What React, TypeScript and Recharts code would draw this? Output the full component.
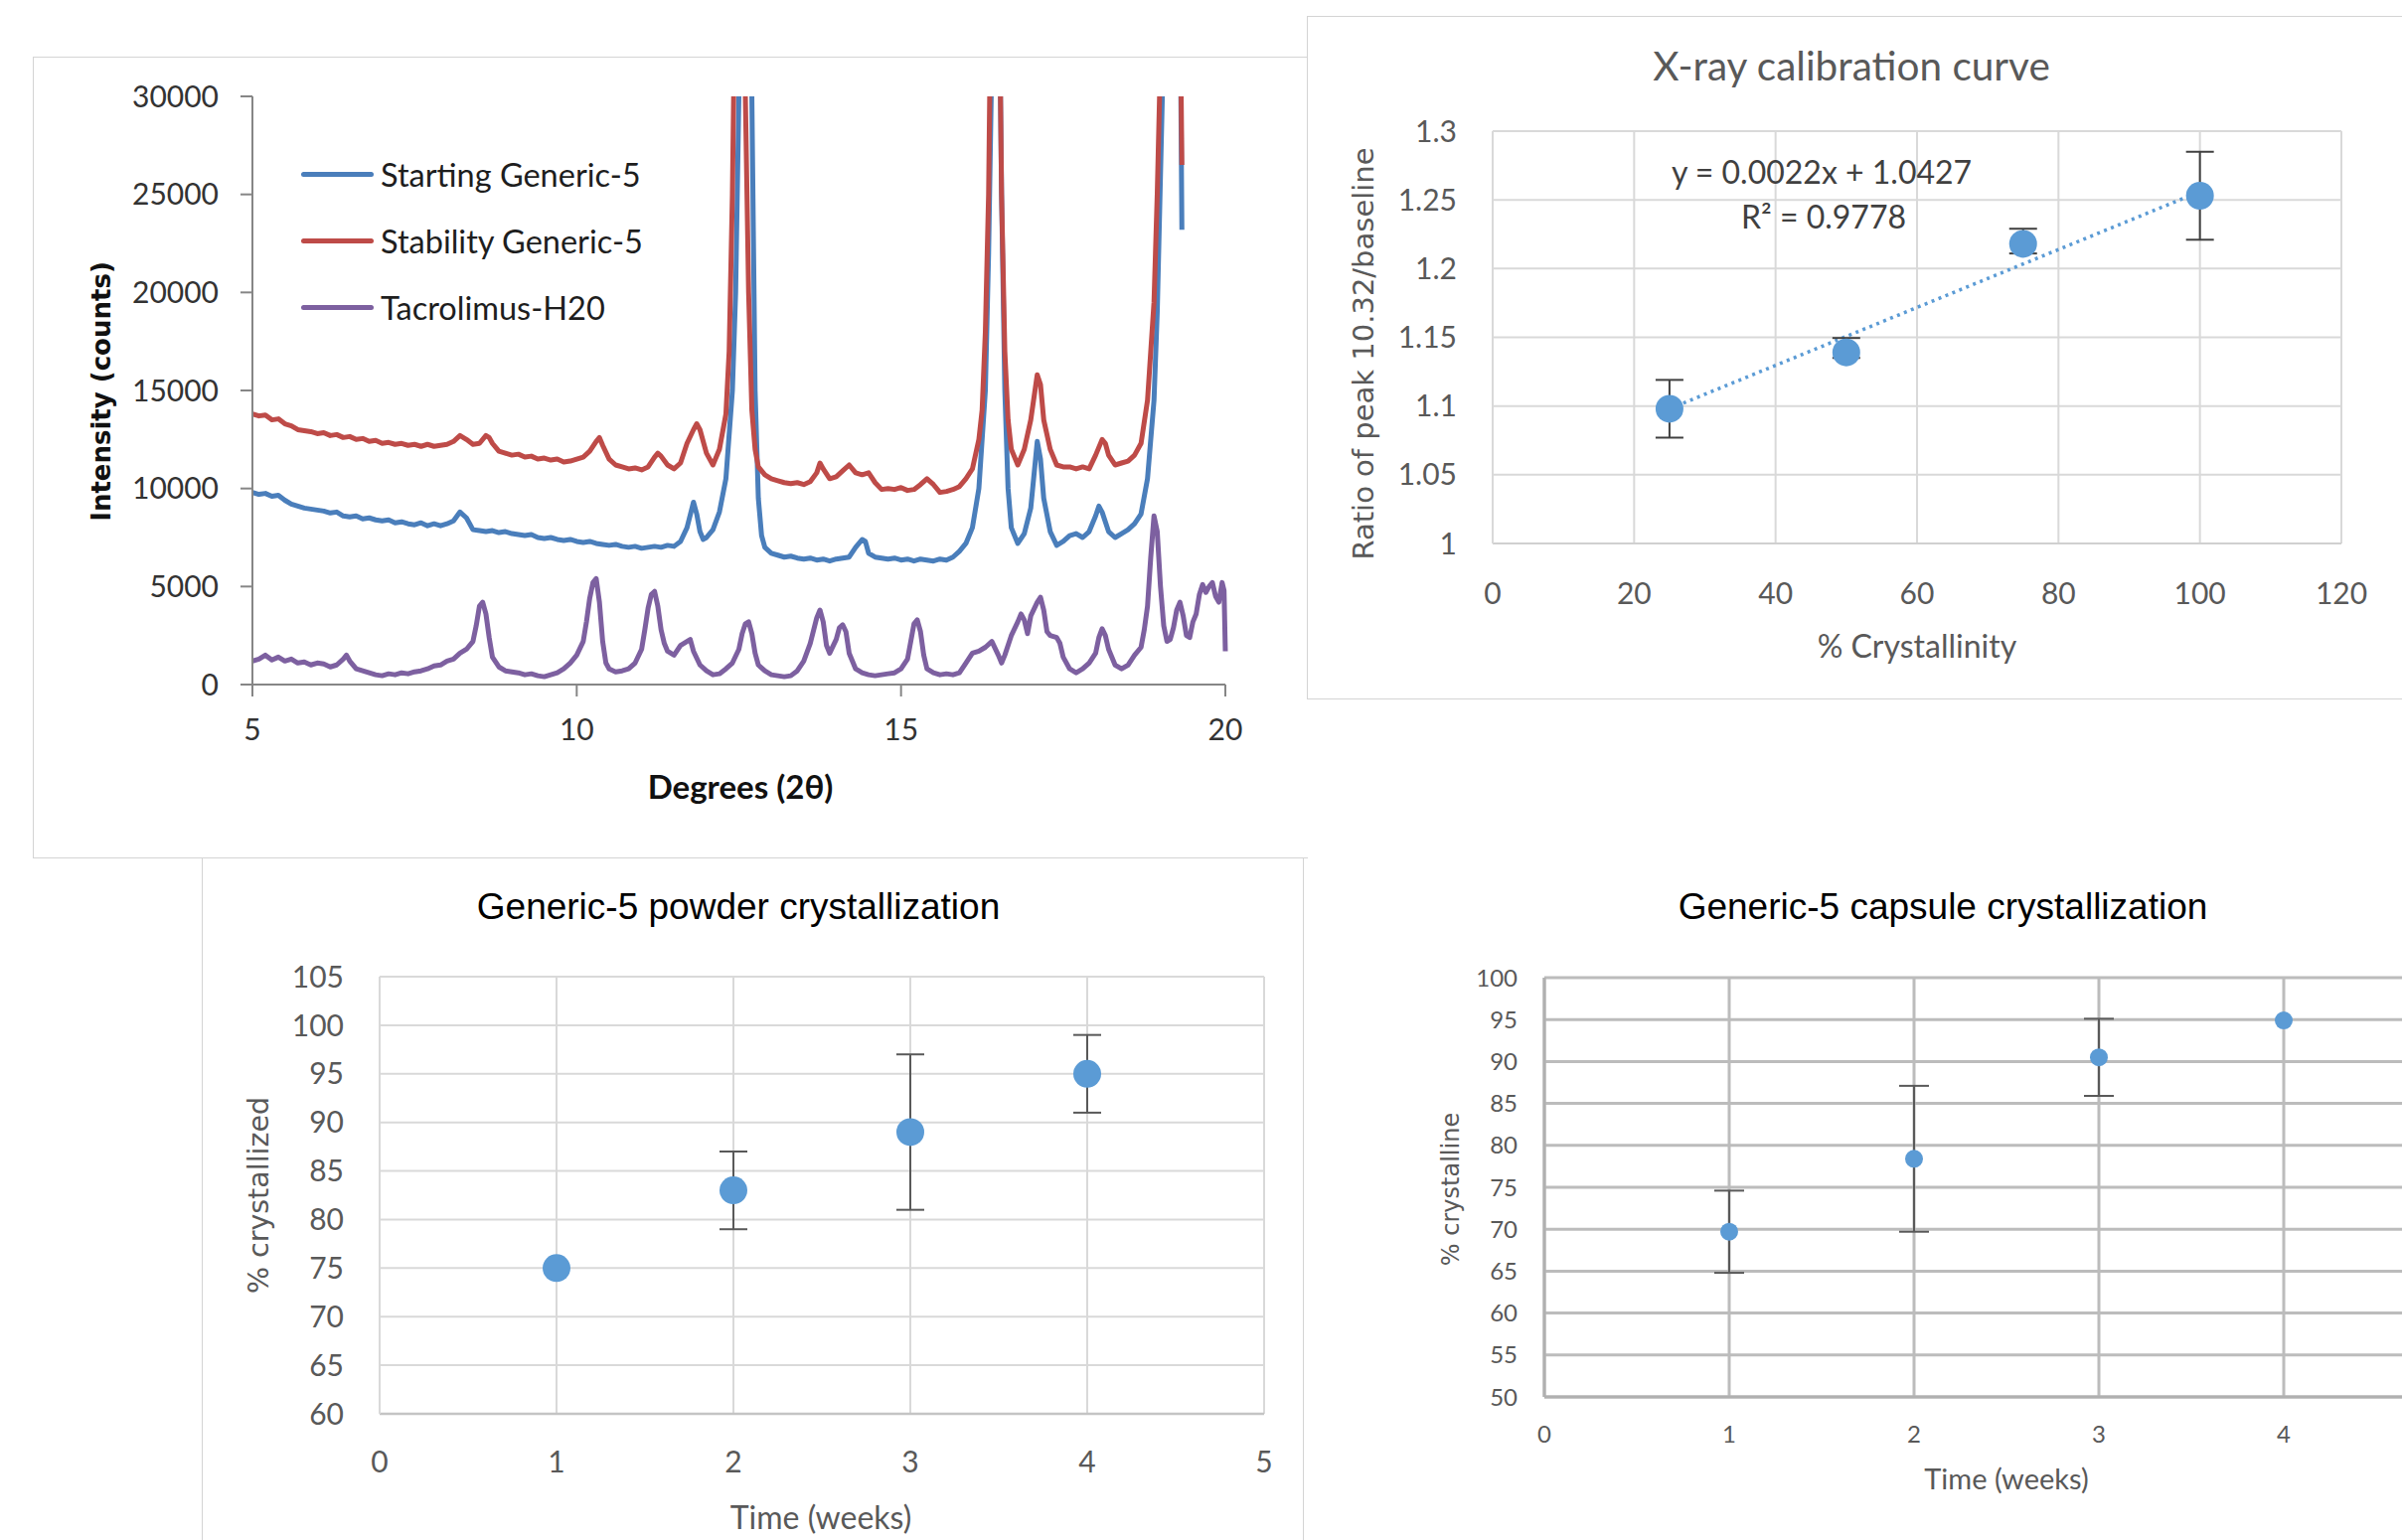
import React from "react";
import {
  LineChart,
  Line,
  XAxis,
  YAxis,
  Legend,
  ComposedChart,
  Scatter,
  ErrorBar,
  CartesianGrid,
} from "recharts";

// ---- XRD patterns (degrees 2θ, counts) ----
const startingGeneric5: [number, number][] = [
  [5.0, 9800], [5.1, 9700], [5.2, 9750], [5.3, 9600], [5.4, 9650], [5.5, 9400], [5.6, 9200],
  [5.7, 9100], [5.8, 9000], [5.9, 8950], [6.0, 8900], [6.1, 8850], [6.2, 8750], [6.3, 8800],
  [6.4, 8600], [6.5, 8550], [6.6, 8600], [6.7, 8450], [6.8, 8500], [6.9, 8400], [7.0, 8350],
  [7.1, 8400], [7.2, 8250], [7.3, 8300], [7.4, 8200], [7.5, 8150], [7.6, 8250], [7.7, 8100],
  [7.8, 8200], [7.9, 8100], [8.0, 8200], [8.1, 8350], [8.2, 8800], [8.3, 8500], [8.4, 7900],
  [8.5, 7850], [8.6, 7800], [8.7, 7850], [8.8, 7750], [8.9, 7800], [9.0, 7700], [9.1, 7650],
  [9.2, 7600], [9.3, 7650], [9.4, 7500], [9.5, 7450], [9.6, 7500], [9.7, 7400], [9.8, 7350],
  [9.9, 7400], [10.0, 7300], [10.1, 7250], [10.2, 7300], [10.3, 7200], [10.4, 7150], [10.5, 7100],
  [10.6, 7150], [10.7, 7050], [10.8, 7000], [10.9, 7050], [11.0, 6950], [11.1, 7000], [11.2, 7050],
  [11.3, 7000], [11.4, 7100], [11.5, 7050], [11.6, 7300], [11.7, 8000], [11.8, 9300], [11.85, 8700],
  [11.9, 7800], [11.95, 7400], [12.0, 7500], [12.1, 7900], [12.2, 8800], [12.3, 10500], [12.4, 15000],
  [12.45, 20000], [12.5, 30000], [12.55, 45000], [12.6, 50000], [12.65, 45000], [12.7, 30000],
  [12.75, 15000], [12.8, 9500], [12.85, 7600], [12.9, 7000], [13.0, 6700], [13.1, 6600], [13.2, 6500],
  [13.3, 6550], [13.4, 6450], [13.5, 6400], [13.6, 6450], [13.7, 6350], [13.8, 6400], [13.9, 6300],
  [14.0, 6400], [14.1, 6450], [14.2, 6500], [14.3, 7000], [14.4, 7400], [14.45, 7300], [14.5, 6700],
  [14.6, 6500], [14.7, 6450], [14.8, 6400], [14.9, 6450], [15.0, 6350], [15.1, 6400], [15.2, 6300],
  [15.3, 6400], [15.4, 6350], [15.5, 6300], [15.6, 6400], [15.7, 6350], [15.8, 6500], [15.9, 6800],
  [16.0, 7200], [16.1, 8000], [16.2, 10000], [16.3, 15000], [16.35, 22000], [16.4, 32000],
  [16.45, 45000], [16.5, 40000], [16.55, 25000], [16.6, 15000], [16.65, 10000], [16.7, 8000],
  [16.8, 7200], [16.9, 7700], [17.0, 9000], [17.1, 12400], [17.15, 11500], [17.2, 9500], [17.3, 7800],
  [17.4, 7100], [17.5, 7300], [17.6, 7600], [17.7, 7700], [17.8, 7500], [17.9, 7800], [18.0, 8600],
  [18.05, 9100], [18.1, 8800], [18.2, 7800], [18.3, 7500], [18.4, 7700], [18.5, 7900], [18.6, 8200],
  [18.7, 8700], [18.8, 10500], [18.9, 14500], [18.95, 19000], [19.0, 26000], [19.05, 33000],
  [19.1, 45000], [19.2, 45000], [19.28, 45000], [19.33, 23200],
];

const stabilityGeneric5: [number, number][] = [
  [5.0, 13800], [5.1, 13700], [5.2, 13750], [5.3, 13500], [5.4, 13550], [5.5, 13300], [5.6, 13200],
  [5.7, 13000], [5.8, 12950], [5.9, 12900], [6.0, 12800], [6.1, 12850], [6.2, 12700], [6.3, 12750],
  [6.4, 12600], [6.5, 12650], [6.6, 12500], [6.7, 12550], [6.8, 12400], [6.9, 12450], [7.0, 12300],
  [7.1, 12350], [7.2, 12250], [7.3, 12300], [7.4, 12200], [7.5, 12250], [7.6, 12150], [7.7, 12250],
  [7.8, 12150], [7.9, 12200], [8.0, 12250], [8.1, 12400], [8.2, 12700], [8.3, 12500], [8.4, 12250],
  [8.5, 12300], [8.6, 12700], [8.65, 12600], [8.7, 12300], [8.8, 11900], [8.9, 11800], [9.0, 11700],
  [9.1, 11750], [9.2, 11600], [9.3, 11650], [9.4, 11500], [9.5, 11550], [9.6, 11450], [9.7, 11500],
  [9.8, 11350], [9.9, 11400], [10.0, 11500], [10.1, 11600], [10.2, 11900], [10.3, 12400],
  [10.35, 12600], [10.4, 12200], [10.5, 11500], [10.6, 11200], [10.7, 11100], [10.8, 11000],
  [10.9, 11050], [11.0, 10950], [11.1, 11100], [11.2, 11600], [11.25, 11800], [11.3, 11650],
  [11.4, 11200], [11.5, 11000], [11.6, 11300], [11.7, 12300], [11.8, 13000], [11.85, 13300],
  [11.9, 13000], [12.0, 11800], [12.1, 11200], [12.2, 12000], [12.3, 13800], [12.35, 17000],
  [12.4, 25000], [12.45, 38000], [12.5, 50000], [12.55, 45000], [12.6, 30000], [12.65, 20000],
  [12.7, 14000], [12.75, 12000], [12.8, 11100], [12.9, 10700], [13.0, 10500], [13.1, 10400],
  [13.2, 10300], [13.3, 10250], [13.4, 10300], [13.5, 10200], [13.6, 10350], [13.7, 10800],
  [13.75, 11300], [13.8, 11000], [13.9, 10500], [14.0, 10600], [14.1, 10900], [14.2, 11200],
  [14.3, 10800], [14.4, 10700], [14.5, 10800], [14.6, 10300], [14.7, 9950], [14.8, 10000],
  [14.9, 9950], [15.0, 10050], [15.1, 9900], [15.2, 9950], [15.3, 10200], [15.4, 10500],
  [15.5, 10200], [15.6, 9800], [15.7, 9850], [15.8, 9950], [15.9, 10100], [16.0, 10500],
  [16.1, 11000], [16.2, 12500], [16.25, 14000], [16.3, 18000], [16.35, 25000], [16.4, 40000],
  [16.45, 50000], [16.5, 40000], [16.55, 25000], [16.6, 17000], [16.65, 13500], [16.7, 12000],
  [16.8, 11200], [16.9, 12000], [17.0, 13500], [17.1, 15800], [17.15, 15300], [17.2, 13500],
  [17.3, 12000], [17.4, 11200], [17.5, 11100], [17.6, 11100], [17.7, 11000], [17.8, 11100],
  [17.9, 11000], [18.0, 11700], [18.1, 12500], [18.15, 12300], [18.2, 11700], [18.3, 11200],
  [18.4, 11300], [18.5, 11400], [18.6, 11700], [18.7, 12300], [18.8, 14500], [18.9, 19500],
  [18.95, 25000], [19.0, 32000], [19.05, 45000], [19.25, 45000], [19.3, 36000], [19.33, 26500],
];

const tacrolimusH20: [number, number][] = [
  [5.0, 1200], [5.1, 1300], [5.2, 1500], [5.3, 1250], [5.4, 1400], [5.5, 1200], [5.6, 1300],
  [5.7, 1100], [5.8, 1150], [5.9, 1000], [6.0, 1100], [6.1, 1050], [6.2, 900], [6.3, 1000],
  [6.4, 1300], [6.45, 1500], [6.5, 1200], [6.6, 800], [6.7, 700], [6.8, 600], [6.9, 500],
  [7.0, 450], [7.1, 550], [7.2, 500], [7.3, 600], [7.4, 550], [7.5, 650], [7.6, 700], [7.7, 800],
  [7.8, 950], [7.9, 1000], [8.0, 1200], [8.1, 1300], [8.2, 1600], [8.3, 1800], [8.4, 2200],
  [8.45, 3000], [8.5, 4000], [8.55, 4200], [8.6, 3600], [8.65, 2400], [8.7, 1400], [8.8, 900],
  [8.9, 700], [9.0, 650], [9.1, 600], [9.2, 500], [9.3, 550], [9.4, 450], [9.5, 400], [9.6, 500],
  [9.7, 600], [9.8, 800], [9.9, 1100], [10.0, 1500], [10.1, 2200], [10.15, 3200], [10.2, 4400],
  [10.25, 5200], [10.3, 5400], [10.35, 4200], [10.4, 2200], [10.45, 1100], [10.5, 800], [10.6, 650],
  [10.7, 700], [10.8, 800], [10.9, 1100], [11.0, 1800], [11.05, 2800], [11.1, 3900], [11.15, 4600],
  [11.2, 4750], [11.25, 4000], [11.3, 2800], [11.35, 2100], [11.4, 1700], [11.5, 1500], [11.6, 2000],
  [11.7, 2200], [11.75, 2300], [11.8, 1700], [11.9, 1000], [12.0, 700], [12.1, 500], [12.2, 550],
  [12.3, 800], [12.4, 1100], [12.5, 1800], [12.55, 2600], [12.6, 3100], [12.65, 3200], [12.7, 2600],
  [12.75, 1600], [12.8, 1000], [12.9, 700], [13.0, 500], [13.1, 450], [13.2, 400], [13.3, 450],
  [13.4, 700], [13.5, 1200], [13.6, 2100], [13.7, 3400], [13.75, 3800], [13.8, 3200], [13.85, 2000],
  [13.9, 1600], [14.0, 2300], [14.05, 2900], [14.1, 3050], [14.15, 2700], [14.2, 1600], [14.3, 800],
  [14.4, 600], [14.5, 500], [14.6, 450], [14.7, 500], [14.8, 550], [14.9, 600], [15.0, 800],
  [15.1, 1300], [15.15, 2200], [15.2, 3100], [15.25, 3300], [15.3, 2700], [15.35, 1500], [15.4, 800],
  [15.5, 600], [15.6, 500], [15.7, 550], [15.8, 500], [15.9, 600], [16.0, 1100], [16.1, 1600],
  [16.2, 1700], [16.3, 1900], [16.4, 2200], [16.5, 1500], [16.55, 1100], [16.6, 1500], [16.7, 2500],
  [16.8, 3200], [16.85, 3600], [16.9, 3300], [16.95, 2600], [17.0, 3500], [17.1, 4200],
  [17.15, 4450], [17.2, 3800], [17.25, 2700], [17.3, 2500], [17.4, 2400], [17.45, 2100],
  [17.5, 1400], [17.6, 800], [17.7, 600], [17.8, 800], [17.9, 1100], [18.0, 1600], [18.05, 2400],
  [18.1, 2850], [18.15, 2500], [18.2, 1800], [18.3, 1000], [18.4, 800], [18.5, 1000], [18.6, 1500],
  [18.7, 1900], [18.75, 2800], [18.8, 4000], [18.85, 6500], [18.9, 8600], [18.95, 7800],
  [19.0, 5000], [19.05, 3000], [19.1, 2200], [19.15, 2300], [19.2, 2900], [19.25, 3800],
  [19.3, 4200], [19.35, 3500], [19.4, 2500], [19.45, 2400], [19.5, 3200], [19.55, 3600],
  [19.6, 4600], [19.65, 5100], [19.7, 4700], [19.75, 5000], [19.8, 5200], [19.85, 4500],
  [19.9, 4200], [19.95, 5200], [19.98, 4800], [20.0, 1700],
];

const xrdSeriesNames = ["Starting Generic-5", "Stability Generic-5", "Tacrolimus-H20"];
const xrdXTicks = [5, 10, 15, 20];
const xrdYTicks = [0, 5000, 10000, 15000, 20000, 25000, 30000];

// ---- calibration curve ----
const calCrystallinity = [25, 50, 75, 100];
const calRatio = [1.098, 1.139, 1.218, 1.253];
const calErrLow = [0.021, 0.004, 0.007, 0.032];
const calErrHigh = [0.021, 0.0105, 0.011, 0.032];
const calTrendX = [25, 100];
const calTrendY = [1.098, 1.256];
const calXTicks = [0, 20, 40, 60, 80, 100, 120];
const calYTicks = [1, 1.05, 1.1, 1.15, 1.2, 1.25, 1.3];

// ---- powder crystallization ----
const powderWeeks = [1, 2, 3, 4];
const powderPct = [75, 83, 89, 95];
const powderErr = [0, 4, 8, 4];
const powderXTicks = [0, 1, 2, 3, 4, 5];
const powderYTicks = [60, 65, 70, 75, 80, 85, 90, 95, 100, 105];

// ---- capsule crystallization ----
const capsuleWeeks = [1, 2, 3, 4];
const capsulePct = [69.7, 78.4, 90.5, 94.9];
const capsuleErr = [4.9, 8.7, 4.6, 0];
const capsuleXTicks = [0, 1, 2, 3, 4];
const capsuleYTicks = [50, 55, 60, 65, 70, 75, 80, 85, 90, 95, 100];

const toXY = (rows: [number, number][]) => rows.map(([x, y]) => ({ x, y }));

const LATO = "Lato, 'Liberation Sans', sans-serif";
const DEJAVU = "'DejaVu Sans', Verdana, sans-serif";
const ARIAL = "'Liberation Sans', Arial, sans-serif";
const DOT = "#5b9bd5";

function Txt({
  x,
  y,
  children,
  size,
  family,
  color = "#595959",
  weight = 400,
  vertical = false,
}: {
  x: number;
  y: number;
  children: React.ReactNode;
  size: number;
  family: string;
  color?: string;
  weight?: number;
  vertical?: boolean;
}) {
  return (
    <div
      style={{
        position: "absolute",
        left: x,
        top: y,
        transform: `translate(-50%, -50%)${vertical ? " rotate(-90deg)" : ""}`,
        whiteSpace: "nowrap",
        fontSize: size,
        fontFamily: family,
        fontWeight: weight,
        color,
        lineHeight: 1,
      }}
    >
      {children}
    </div>
  );
}

const dotShape = (r: number) => (props: any) =>
  <circle cx={props.cx} cy={props.cy} r={r} fill={DOT} />;

function XrdLegend(props: any) {
  const items = [...(props.payload || [])].sort(
    (a: any, b: any) => xrdSeriesNames.indexOf(a.value) - xrdSeriesNames.indexOf(b.value)
  );
  return (
    <div>
      {items.map((p: any) => (
        <div key={p.value} style={{ display: "flex", alignItems: "center", height: 67 }}>
          <span
            style={{
              display: "inline-block",
              width: 73,
              height: 5,
              borderRadius: 3,
              background: p.color,
              marginRight: 7,
            }}
          />
          <span style={{ fontFamily: LATO, fontSize: 32.5, color: "#1e1e1e" }}>{p.value}</span>
        </div>
      ))}
    </div>
  );
}

function XrdChart() {
  const axisStyle = { stroke: "#868686", strokeWidth: 2 };
  const colors = ["#4a7ebb", "#be4b48", "#7d60a0"];
  const series = [startingGeneric5, stabilityGeneric5, tacrolimusH20];
  return (
    <div style={{ position: "absolute", left: 0, top: 0 }}>
      <LineChart width={1300} height={860} margin={{ top: 97, right: 67, bottom: 111, left: 134 }}>
        <XAxis
          type="number"
          dataKey="x"
          domain={[5, 20]}
          ticks={xrdXTicks}
          height={60}
          axisLine={axisStyle}
          tickLine={axisStyle}
          tickSize={12}
          tickMargin={23}
          tick={{ fontSize: 30, fontFamily: LATO, fill: "#333" }}
        />
        <YAxis
          type="number"
          domain={[0, 30000]}
          ticks={xrdYTicks}
          allowDataOverflow
          width={120}
          axisLine={axisStyle}
          tickLine={axisStyle}
          tickSize={12}
          tickMargin={22}
          tick={{ fontSize: 30, fontFamily: LATO, fill: "#333" }}
        />
        <Legend
          layout="vertical"
          verticalAlign="middle"
          align="center"
          content={<XrdLegend />}
          wrapperStyle={{ left: 303, top: 142, width: "auto" }}
        />
        {series.map((s, i) => (
          <Line
            key={xrdSeriesNames[i]}
            data={toXY(s)}
            dataKey="y"
            name={xrdSeriesNames[i]}
            stroke={colors[i]}
            strokeWidth={5}
            strokeLinejoin="round"
            dot={false}
            type="linear"
            isAnimationActive={false}
          />
        ))}
      </LineChart>
    </div>
  );
}

function CalibrationChart() {
  const points = calCrystallinity.map((x, i) => ({
    x,
    y: calRatio[i],
    err: [calErrLow[i], calErrHigh[i]],
  }));
  const trend = calTrendX.map((x, i) => ({ x, y: calTrendY[i] }));
  const tick = { fontSize: 30, fontFamily: LATO, fill: "#595959" };
  return (
    <div style={{ position: "absolute", left: 1316, top: 16 }}>
      <ComposedChart width={1100} height={686} margin={{ top: 116, right: 60, bottom: 95, left: 86 }}>
        <CartesianGrid stroke="#d9d9d9" strokeWidth={2} />
        <XAxis
          type="number"
          dataKey="x"
          domain={[0, 120]}
          ticks={calXTicks}
          height={60}
          axisLine={{ stroke: "#d0d0d0", strokeWidth: 2 }}
          tickLine={false}
          tickSize={0}
          tickMargin={40}
          tick={tick}
        />
        <YAxis
          type="number"
          dataKey="y"
          domain={[1, 1.3]}
          ticks={calYTicks}
          width={100}
          axisLine={{ stroke: "#d9d9d9", strokeWidth: 2 }}
          tickLine={false}
          tickSize={0}
          tickMargin={36}
          tick={tick}
        />
        <Line
          data={trend}
          dataKey="y"
          stroke={DOT}
          strokeWidth={3.5}
          strokeDasharray="3 4.5"
          dot={false}
          type="linear"
          isAnimationActive={false}
        />
        <Scatter data={points} dataKey="y" shape={dotShape(14)} isAnimationActive={false}>
          <ErrorBar dataKey="err" direction="y" width={14} stroke="#404040" strokeWidth={2} />
        </Scatter>
      </ComposedChart>
    </div>
  );
}

function PowderChart() {
  const points = powderWeeks.map((x, i) => ({ x, y: powderPct[i], err: powderErr[i] }));
  const tick = { fontSize: 30, fontFamily: LATO, fill: "#595959" };
  return (
    <div style={{ position: "absolute", left: 204, top: 866 }}>
      <ComposedChart width={1100} height={684} margin={{ top: 117, right: 32, bottom: 67, left: 78 }}>
        <CartesianGrid stroke="#d9d9d9" strokeWidth={2} />
        <XAxis
          type="number"
          dataKey="x"
          domain={[0, 5]}
          ticks={powderXTicks}
          height={60}
          axisLine={{ stroke: "#c4c4c4", strokeWidth: 2.5 }}
          tickLine={false}
          tickSize={0}
          tickMargin={38}
          tick={tick}
        />
        <YAxis
          type="number"
          dataKey="y"
          domain={[60, 105]}
          ticks={powderYTicks}
          width={100}
          axisLine={{ stroke: "#d9d9d9", strokeWidth: 2 }}
          tickLine={false}
          tickSize={0}
          tickMargin={36}
          tick={tick}
        />
        <Scatter data={points} dataKey="y" shape={dotShape(14)} isAnimationActive={false}>
          <ErrorBar dataKey="err" direction="y" width={14} stroke="#595959" strokeWidth={2} />
        </Scatter>
      </ComposedChart>
    </div>
  );
}

function CapsuleChart() {
  const points = capsuleWeeks.map((x, i) => ({ x, y: capsulePct[i], err: capsuleErr[i] }));
  const tick = { fontSize: 24, fontFamily: LATO, fill: "#595959" };
  return (
    <div style={{ position: "absolute", left: 1312, top: 866 }}>
      <ComposedChart width={1200} height={684} margin={{ top: 118, right: 28, bottom: 84, left: 142 }}>
        <CartesianGrid stroke="#bcbcbc" strokeWidth={3} />
        <XAxis
          type="number"
          dataKey="x"
          domain={[0, 5]}
          ticks={capsuleXTicks}
          height={60}
          axisLine={{ stroke: "#b0b0b0", strokeWidth: 3 }}
          tickLine={false}
          tickSize={0}
          tickMargin={29}
          tick={tick}
        />
        <YAxis
          type="number"
          dataKey="y"
          domain={[50, 100]}
          ticks={capsuleYTicks}
          width={100}
          axisLine={{ stroke: "#b0b0b0", strokeWidth: 3 }}
          tickLine={false}
          tickSize={0}
          tickMargin={27}
          tick={tick}
        />
        <Scatter data={points} dataKey="y" shape={dotShape(9)} isAnimationActive={false}>
          <ErrorBar dataKey="err" direction="y" width={15} stroke="#595959" strokeWidth={2} />
        </Scatter>
      </ComposedChart>
    </div>
  );
}

export default function App() {
  const border = "1.5px solid #d4d4d4";
  return (
    <div
      style={{
        position: "absolute",
        left: 0,
        top: 0,
        width: 2417,
        height: 1550,
        overflow: "hidden",
        background: "#fff",
      }}
    >
      {/* panel frames */}
      <div style={{ position: "absolute", left: 33, top: 57, width: 1282, height: 805, borderLeft: border, borderTop: border, borderBottom: border }} />
      <div style={{ position: "absolute", left: 1315, top: 16, width: 1200, height: 686, borderLeft: border, borderTop: border, borderBottom: border }} />
      <div style={{ position: "absolute", left: 203, top: 864, width: 1, height: 700, borderLeft: border }} />
      <div style={{ position: "absolute", left: 1311, top: 864, width: 1, height: 700, borderLeft: border }} />

      <XrdChart />
      <Txt x={102} y={394} size={26} family={DEJAVU} weight={700} color="#111" vertical>
        Intensity (counts)
      </Txt>
      <Txt x={745} y={791} size={33} family={LATO} weight={700} color="#111">
        Degrees (2θ)
      </Txt>

      <CalibrationChart />
      <Txt x={1863} y={66} size={40.5} family={LATO}>
        X-ray calibration curve
      </Txt>
      <Txt x={1833} y={173} size={32} family={LATO} color="#404040">
        y = 0.0022x + 1.0427
      </Txt>
      <Txt x={1835} y={218} size={32} family={LATO} color="#404040">
        R² = 0.9778
      </Txt>
      <Txt x={1929} y={650} size={32} family={LATO}>
        % Crystallinity
      </Txt>
      <Txt x={1372} y={356} size={29} family={DEJAVU} vertical>
        Ratio of peak 10.32/baseline
      </Txt>

      <PowderChart />
      <Txt x={743} y={912} size={37} family={ARIAL} color="#000">
        Generic-5 powder crystallization
      </Txt>
      <Txt x={826} y={1527} size={32} family={LATO}>
        Time (weeks)
      </Txt>
      <Txt x={261} y={1203} size={28.5} family={DEJAVU} vertical>
        % crystallized
      </Txt>

      <CapsuleChart />
      <Txt x={1955} y={912} size={37} family={ARIAL} color="#000">
        Generic-5 capsule crystallization
      </Txt>
      <Txt x={2019} y={1487} size={29} family={LATO}>
        Time (weeks)
      </Txt>
      <Txt x={1460} y={1197} size={24} family={DEJAVU} vertical>
        % crystalline
      </Txt>
    </div>
  );
}
